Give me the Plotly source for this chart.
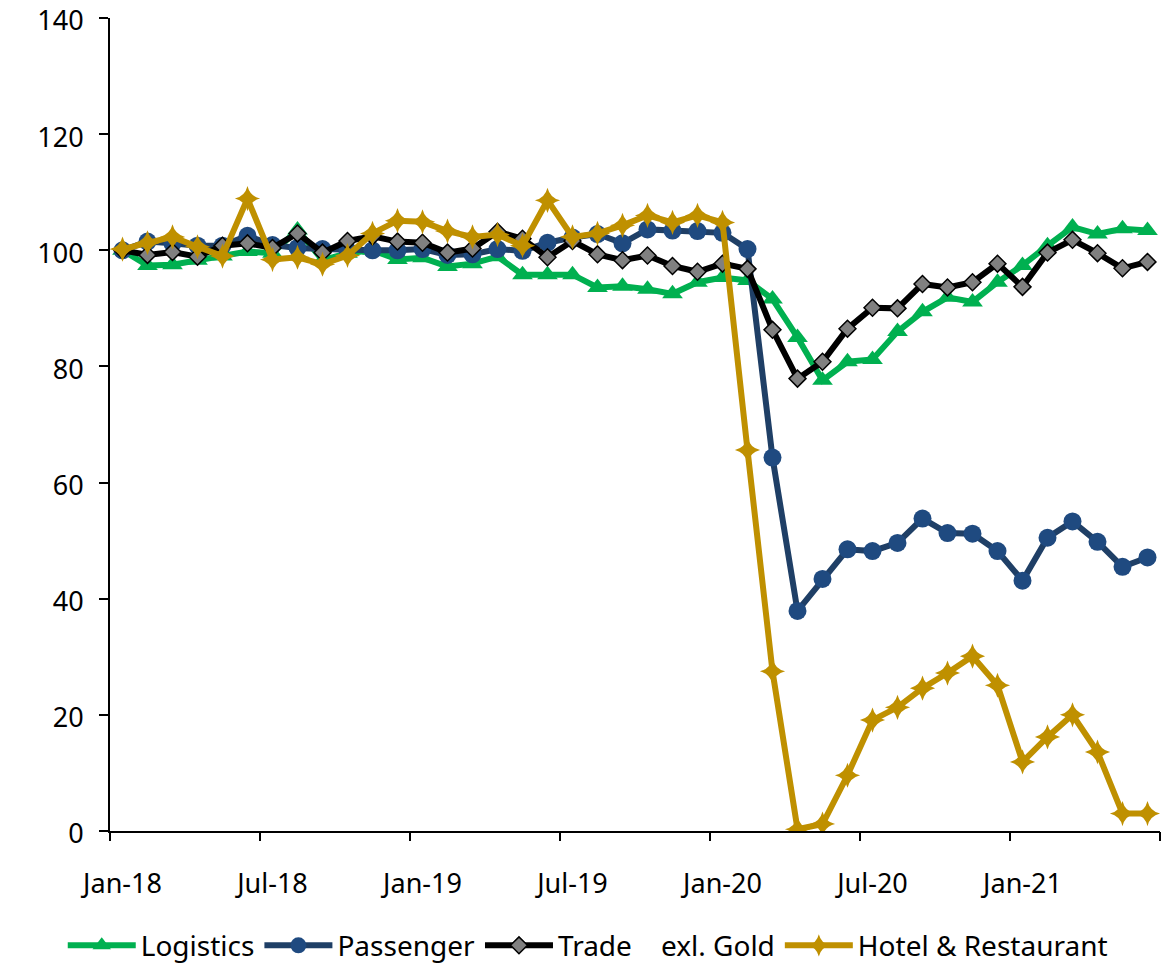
import plotly.graph_objects as go

months = ["Jan-18","Feb-18","Mar-18","Apr-18","May-18","Jun-18","Jul-18","Aug-18","Sep-18","Oct-18","Nov-18","Dec-18",
          "Jan-19","Feb-19","Mar-19","Apr-19","May-19","Jun-19","Jul-19","Aug-19","Sep-19","Oct-19","Nov-19","Dec-19",
          "Jan-20","Feb-20","Mar-20","Apr-20","May-20","Jun-20","Jul-20","Aug-20","Sep-20","Oct-20","Nov-20","Dec-20",
          "Jan-21","Feb-21","Mar-21","Apr-21","May-21","Jun-21"]
tick_labels = ["Jan-18","Jul-18","Jan-19","Jul-19","Jan-20","Jul-20","Jan-21"]
y_ticks = [0, 20, 40, 60, 80, 100, 120, 140]

logistics = [100, 97.4, 97.5, 98.3, 99.0, 99.8, 99.5, 103.5, 98.3, 99.5, 100.0, 98.4,
             98.7, 97.2, 97.7, 98.9, 95.8, 95.8, 95.8, 93.6, 93.8, 93.3, 92.5, 94.5,
             95.3, 94.8, 91.6, 85.0, 77.6, 80.8, 81.2, 86.0, 89.4, 91.9, 91.1, 94.5,
             97.4, 100.8, 104.0, 102.8, 103.7, 103.4]
passenger = [100, 101.5, 101.2, 100.8, 100.8, 102.5, 100.9, 100.4, 100.2, 100.0, 100.0, 100.0,
             100.2, 99.2, 99.3, 100.2, 99.9, 101.3, 102.2, 102.8, 101.2, 103.6, 103.4, 103.3,
             103.0, 100.2, 64.3, 37.9, 43.4, 48.5, 48.2, 49.6, 53.8, 51.3, 51.2, 48.2,
             43.1, 50.5, 53.3, 49.8, 45.5, 47.1]
trade = [100, 99.2, 99.7, 98.9, 100.8, 101.2, 100.4, 102.9, 99.6, 101.6, 102.4, 101.5,
         101.3, 99.6, 100.3, 103.2, 102.0, 98.8, 101.6, 99.3, 98.3, 99.1, 97.3, 96.3,
         97.7, 96.8, 86.3, 77.9, 80.8, 86.5, 90.1, 90.0, 94.2, 93.6, 94.5, 97.7,
         93.7, 99.6, 101.8, 99.5, 96.9, 98.0]
hotel = [100.2, 101.3, 102.3, 100.6, 99.0, 108.9, 98.4, 98.8, 97.6, 99.1, 102.9, 105.1,
         104.9, 103.3, 102.3, 102.7, 100.8, 108.6, 102.3, 102.9, 104.3, 106.0, 104.8, 106.0,
         104.8, 65.6, 27.5, 0.3, 1.2, 9.6, 19.1, 21.3, 24.6, 27.2, 30.1, 25.1,
         11.9, 16.2, 20.0, 13.6, 3.0, 3.0]

FONT = "Noto Sans"
FS = 27
idx = list(range(len(months)))

fig = go.Figure()
fig.add_trace(go.Scatter(x=idx, y=logistics, name="Logistics", mode="lines+markers",
                         line=dict(color="#00B050", width=6),
                         marker=dict(symbol="triangle-up", size=18, color="#00B050")))
fig.add_trace(go.Scatter(x=idx, y=passenger, name="Passenger", mode="lines+markers",
                         line=dict(color="#1F3F66", width=6),
                         marker=dict(symbol="circle", size=18, color="#1F4A80")))
fig.add_trace(go.Scatter(x=idx, y=trade, name="Trade\u00a0\u00a0\u00a0\u00a0exl. Gold", mode="lines+markers",
                         line=dict(color="#000000", width=6),
                         marker=dict(symbol="diamond", size=13, color="#808080",
                                     line=dict(color="#000000", width=1.5))))
fig.add_trace(go.Scatter(x=idx, y=hotel, name="Hotel & Restaurant", mode="lines+markers",
                         line=dict(color="#BF9000", width=6),
                         marker=dict(symbol="star-diamond", size=18, color="#BF9000")))

tickpos = [months.index(t) for t in tick_labels]
bounds = [i - 0.5 for i in range(0, len(months) + 1, 6)]

# invisible trace on overlay axis so that axis is drawn
fig.add_trace(go.Scatter(x=[bounds[0]], y=[0], xaxis="x2", mode="markers",
                         marker=dict(opacity=0), showlegend=False, hoverinfo="skip"))

fig.update_layout(
    width=1165, height=955,
    margin=dict(l=102, r=13, t=10, b=132, autoexpand=False),
    plot_bgcolor="white", paper_bgcolor="white",
    font=dict(family=FONT, size=FS, color="black"),
    showlegend=True,
    legend=dict(orientation="h", x=0.455, xanchor="center", y=-0.141, yanchor="middle",
                font=dict(size=28), itemwidth=68, tracegroupgap=0),
    xaxis=dict(range=[-0.5, len(months) - 0.5], tickmode="array", tickvals=tickpos,
               ticktext=tick_labels, ticks="outside", ticklen=28, tickcolor="rgba(0,0,0,0)",
               showline=True, linecolor="black", linewidth=2, showgrid=False, zeroline=False,
               tickfont=dict(size=FS), automargin=False, ticklabeloverflow="allow"),
    xaxis2=dict(overlaying="x", range=[-0.5, len(months) - 0.5], tickmode="array",
                tickvals=bounds, ticks="outside", ticklen=9, tickwidth=2, tickcolor="black",
                showticklabels=False, showgrid=False, zeroline=False, showline=False,
                side="bottom", anchor="y", automargin=False),
    yaxis=dict(range=[0, 140], tickmode="array", tickvals=y_ticks,
               ticktext=[str(v) for v in y_ticks], ticks="outside",
               ticklen=9, tickwidth=2, tickcolor="black", showline=True, linecolor="black",
               linewidth=2, showgrid=False, zeroline=False, tickfont=dict(size=FS),
               ticklabelstandoff=10, ticklabelshift=3, automargin=False,
               ticklabeloverflow="allow"),
)

fig.write_html("out.html")
